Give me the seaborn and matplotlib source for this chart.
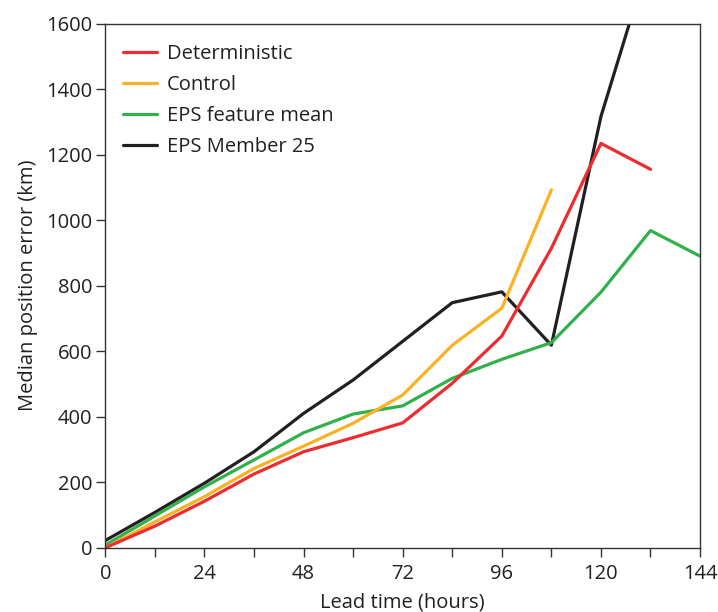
import numpy as np
import pandas as pd
import matplotlib
matplotlib.use("Agg")
import matplotlib.pyplot as plt
import seaborn as sns

sns.set_theme(style="white")
plt.rcParams['font.family'] = ['Open Sans', 'DejaVu Sans']

hours = [0, 12, 24, 36, 48, 60, 72, 84, 96, 108, 120, 132, 144]
deterministic = [0, 66, 142, 225, 293, 336, 381, 502, 646, 914, 1234, 1155, None]
control = [0, 79, 156, 242, 310, 380, 466, 618, 731, 1092, None, None, None]
eps_mean = [8, 97, 186, 268, 351, 408, 433, 517, 575, 626, 780, 968, 890]
eps_member25 = [22, 108, 197, 293, 410, 512, 630, 748, 781, 618, 1316, 1810, None]

series_names = ["Deterministic", "Control", "EPS feature mean", "EPS Member 25"]
series_values = [deterministic, control, eps_mean, eps_member25]
colors = {"Deterministic": "#ED2B30", "Control": "#FBB124",
          "EPS feature mean": "#31B04B", "EPS Member 25": "#231F20"}

rows = []
for name, vals in zip(series_names, series_values):
    for h, v in zip(hours, vals):
        if v is not None:
            rows.append({"hours": h, "error": v, "series": name})
df = pd.DataFrame(rows)

fig = plt.figure(figsize=(7.18, 6.12), dpi=100)
ax = fig.add_axes([0.1467, 0.105, 0.975 - 0.1467, 0.9616 - 0.105])

draw_order = ["EPS Member 25", "EPS feature mean", "Control", "Deterministic"]
for name in draw_order:
    sub = df[df["series"] == name]
    sns.lineplot(data=sub, x="hours", y="error", color=colors[name], lw=2.3,
                 label=name, ax=ax, sort=True)

ax.set_xlim(0, 144)
ax.set_ylim(0, 1600)
ax.set_xticks(range(0, 145, 24))
ax.set_xticks(range(12, 145, 24), minor=True)
ax.set_yticks(range(0, 1601, 200))
textc = "#231F20"
ax.tick_params(axis="both", which="both", direction="out", length=6.5, width=1,
               color="#333333", labelsize=14.5, labelcolor=textc, pad=3)
ax.tick_params(axis="x", which="major", pad=5)
ax.tick_params(bottom=True, left=True, which="both")
for s in ax.spines.values():
    s.set_color("#333333")
    s.set_linewidth(1.0)

ax.set_xlabel("Lead time (hours)", fontsize=14.5, color=textc, labelpad=6)
ax.set_ylabel("Median position error (km)", fontsize=14.5, color=textc, labelpad=6)

handles, labels = ax.get_legend_handles_labels()
hmap = dict(zip(labels, handles))
leg = ax.legend([hmap[n] for n in series_names], series_names, loc="upper left",
                frameon=False, fontsize=14.5, handlelength=1.65, handletextpad=0.5,
                labelspacing=0.55, borderaxespad=0.5, bbox_to_anchor=(0.0, 0.995))
for t in leg.get_texts():
    t.set_color(textc)

fig.savefig("out.png", dpi=100)
